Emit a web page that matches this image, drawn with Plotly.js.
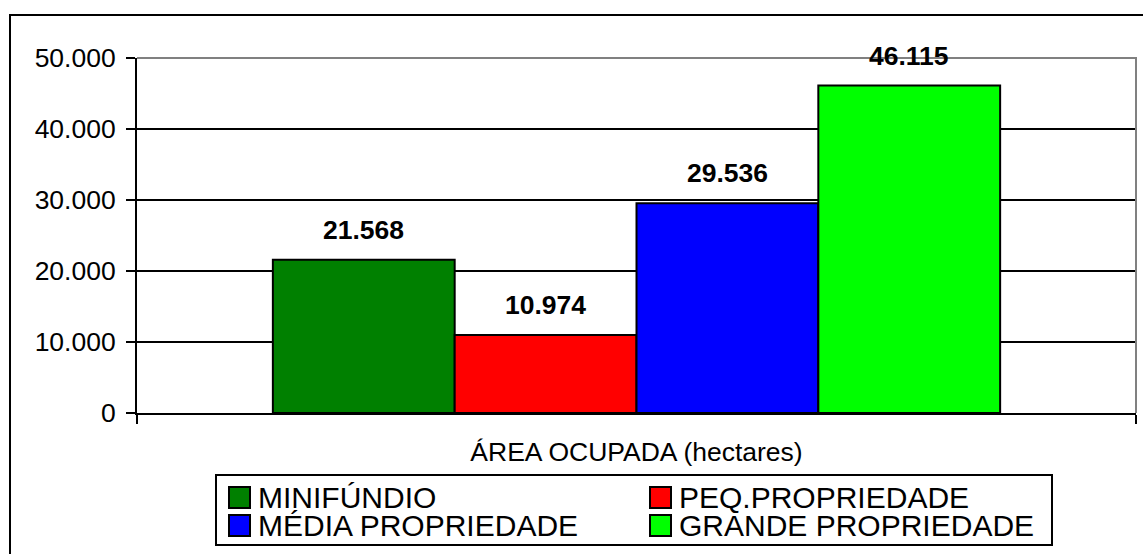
<!DOCTYPE html>
<html>
<head>
<meta charset="utf-8">
<script src="https://cdn.plot.ly/plotly-3.0.1.min.js"></script>
<style>
  html, body { margin: 0; padding: 0; background: #ffffff; overflow: hidden; }
  #chart { width: 1143px; height: 554px; }
</style>
</head>
<body>
<div id="chart"></div>
<script>
// ---- data ----
const categories = ['ÁREA OCUPADA (hectares)'];
const seriesNames = ['MINIFÚNDIO', 'PEQ.PROPRIEDADE', 'MÉDIA PROPRIEDADE', 'GRANDE PROPRIEDADE'];
const minifundio = [21568];
const peqPropriedade = [10974];
const mediaPropriedade = [29536];
const grandePropriedade = [46115];
const yTickValues = [0, 10000, 20000, 30000, 40000, 50000];
const yTickLabels = ['0', '10.000', '20.000', '30.000', '40.000', '50.000'];

// ---- styles / layout constants ----
const seriesValues = [minifundio, peqPropriedade, mediaPropriedade, grandePropriedade];
const seriesColors = ['#008000', '#FF0000', '#0000FF', '#00FF00'];
const FONT = 'Liberation Sans, Arial, Helvetica, sans-serif';
const W = 1143, H = 554;
const M = {l: 137, r: 7, t: 58, b: 141};
const plotW = W - M.l - M.r;
const plotH = H - M.t - M.b;
const BARGAP = 0.272;
const barPx = plotW * (1 - BARGAP) / seriesValues.length;
const px2x = px => (px - M.l) / plotW;          // page px -> paper x
const px2y = py => (H - M.b - py) / plotH;      // page px -> paper y

// legend geometry (page pixels)
const LEG = {x0: 216, x1: 1052, y0: 475, y1: 545};
const LEG_COLS = [229, 650];     // swatch left edges
const LEG_ROWS = [487, 515];     // swatch top edges
const SW = 21;                    // swatch size
const LEG_FONT = 30;

const traces = seriesValues.map((vals, i) => ({
  type: 'bar',
  x: categories,
  y: vals,
  name: seriesNames[i],
  marker: {color: seriesColors[i], line: {color: '#000000', width: 2}},
  showlegend: false,
  hoverinfo: 'skip'
}));

const fmt = v => String(Math.round(v)).replace(/\B(?=(\d{3})+(?!\d))/g, '.');

const annotations = [];
const shapes = [
  // outer chart frame
  {type: 'rect', xref: 'paper', yref: 'paper',
   x0: px2x(10), x1: px2x(W + 40), y0: px2y(H + 40), y1: px2y(15),
   line: {color: '#000000', width: 2}, fillcolor: 'rgba(0,0,0,0)', layer: 'below'},
  // gray plot-area border (top and right)
  {type: 'path', xref: 'paper', yref: 'paper', path: 'M0,1 L1,1 L1,0',
   line: {color: '#808080', width: 2}, layer: 'above'},
  // legend box
  {type: 'rect', xref: 'paper', yref: 'paper',
   x0: px2x(LEG.x0), x1: px2x(LEG.x1), y0: px2y(LEG.y1), y1: px2y(LEG.y0),
   line: {color: '#000000', width: 2}, fillcolor: '#ffffff', layer: 'above'}
];

// value labels
seriesValues.forEach((vals, i) => {
  vals.forEach((v, j) => {
    annotations.push({
      x: categories[j], y: v, xref: 'x', yref: 'y',
      text: '<b>' + fmt(v) + '</b>',
      showarrow: false,
      xshift: (i - (seriesValues.length - 1) / 2) * barPx,
      yshift: 30,
      yanchor: 'middle',
      font: {family: FONT, size: 26.5, color: '#000000'}
    });
  });
});

// legend entries (two columns, row-major)
seriesNames.forEach((name, i) => {
  const col = i % 2, row = Math.floor(i / 2);
  const sx = LEG_COLS[col], sy = LEG_ROWS[row];
  shapes.push({type: 'rect', xref: 'paper', yref: 'paper',
    x0: px2x(sx), x1: px2x(sx + SW), y0: px2y(sy + SW), y1: px2y(sy),
    line: {color: '#000000', width: 2}, fillcolor: seriesColors[i], layer: 'above'});
  annotations.push({
    xref: 'paper', yref: 'paper',
    x: px2x(sx + SW + 6), y: px2y(sy + SW / 2),
    xanchor: 'left', yanchor: 'middle',
    text: name, showarrow: false,
    font: {family: FONT, size: LEG_FONT, color: '#000000'}
  });
});

const layout = {
  width: W, height: H,
  margin: M,
  paper_bgcolor: '#ffffff',
  plot_bgcolor: '#ffffff',
  font: {family: FONT, size: 26.5, color: '#000000'},
  barmode: 'group',
  bargap: BARGAP,
  bargroupgap: 0,
  showlegend: false,
  xaxis: {
    type: 'category',
    showline: true, linecolor: '#000000', linewidth: 2,
    ticks: 'outside', tickson: 'boundaries', ticklen: 9, tickwidth: 2, tickcolor: '#000000',
    showgrid: false, zeroline: false,
    tickfont: {family: FONT, size: 26.5, color: '#000000'},
    ticklabelstandoff: 14,
    automargin: false,
    fixedrange: true
  },
  yaxis: {
    range: [0, 50000],
    tickmode: 'array', tickvals: yTickValues, ticktext: yTickLabels,
    showline: true, linecolor: '#000000', linewidth: 2,
    ticks: 'outside', ticklen: 9, tickwidth: 2, tickcolor: '#000000',
    showgrid: true, gridcolor: '#000000', gridwidth: 2,
    zeroline: false,
    tickfont: {family: FONT, size: 26.5, color: '#000000'},
    ticklabelstandoff: 5,
    automargin: false,
    fixedrange: true
  },
  annotations: annotations,
  shapes: shapes
};

Plotly.newPlot('chart', traces, layout, {displayModeBar: false, staticPlot: true});
</script>
</body>
</html>
